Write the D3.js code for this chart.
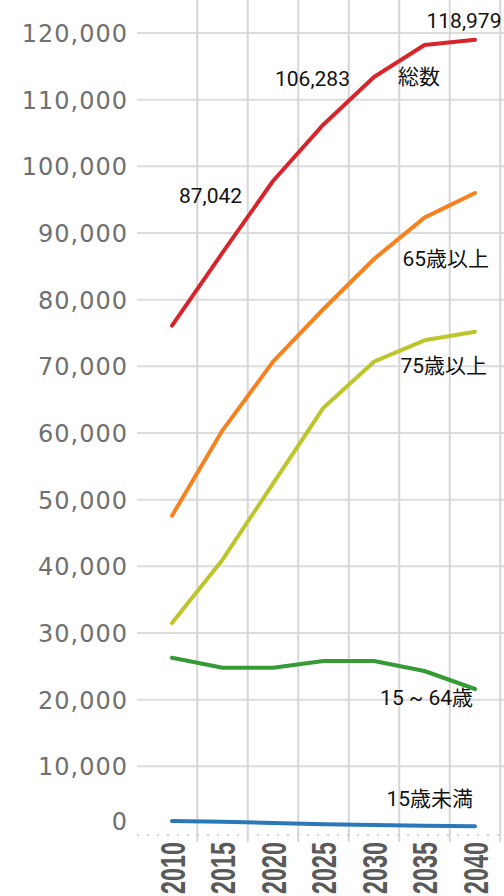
<!DOCTYPE html>
<html><head><meta charset="utf-8">
<script src="https://cdn.jsdelivr.net/npm/d3@7"></script>
<style>
html,body{margin:0;padding:0;background:#fff;}
svg{display:block;}
</style></head>
<body>
<svg id="chart" width="504" height="896"></svg>
<script>
const years = [2010, 2015, 2020, 2025, 2030, 2035, 2040];
const yTicks = [0, 10000, 20000, 30000, 40000, 50000, 60000, 70000, 80000, 90000, 100000, 110000, 120000];
const total   = [76100, 87042, 97800, 106283, 113400, 118200, 118979];
const over65  = [47600, 60400, 70700, 78600, 86100, 92300, 96000];
const over75  = [31500, 41000, 52400, 63800, 70700, 73900, 75200];
const age1564 = [26300, 24800, 24800, 25800, 25800, 24300, 21600];
const under15 = [1800, 1700, 1500, 1300, 1200, 1100, 1000];
const seriesNames = ["総数", "65歳以上", "75歳以上", "15 ~ 64歳", "15歳未満"];
const seriesColors = ["#d8252c", "#f5821f", "#bcc52a", "#359b35", "#2a78b8"];
const seriesValues = [total, over65, over75, age1564, under15];
// label offsets relative to the 2040 point
const nameOffsets = [[-35, 44], [14, 73], [12, 41], [-2, 16], [-2, -20]];
const valueLabels = [
  {year: 2015, value: 87042, dx: -12, dy: -50},
  {year: 2025, value: 106283, dx: -11, dy: -38},
  {year: 2040, value: 118979, dx: -11, dy: -12}
];

const svg = d3.select("#chart");
const x = d3.scalePoint().domain(years).range([172, 475]);
const y = d3.scaleLinear().domain([0, 120000]).range([833, 33]);
const step = x.step();

// horizontal grid
svg.append("g").selectAll("line").data(yTicks.filter(d => d > 0)).join("line")
  .attr("x1", 137).attr("x2", 504)
  .attr("y1", d => y(d)).attr("y2", d => y(d))
  .attr("stroke", "#dcdcdc").attr("stroke-width", 2);

// vertical grid at band edges
svg.append("g").selectAll("line").data(years).join("line")
  .attr("x1", d => x(d) + step / 2).attr("x2", d => x(d) + step / 2)
  .attr("y1", 0).attr("y2", 842)
  .attr("stroke", "#d6d6d6").attr("stroke-width", 2);

// baseline (dotted)
svg.append("line").attr("x1", 137).attr("x2", 504).attr("y1", 835).attr("y2", 835)
  .attr("stroke", "#c8c8c8").attr("stroke-width", 1.5).attr("stroke-dasharray", "2,8");

// y axis labels
const yAxis = d3.axisLeft(y).tickValues(yTicks).tickSize(0).tickPadding(0)
  .tickFormat(d3.format(","));
const gy = svg.append("g").attr("transform", "translate(128,0)").call(yAxis);
gy.select(".domain").remove();
gy.selectAll("text")
  .attr("font-family", "'DejaVu Sans', Verdana, sans-serif")
  .attr("font-size", 24).attr("fill", "#707070")
  .attr("letter-spacing", 1)
  .attr("dy", d => d === 0 ? "-0.15em" : "0.35em");

// x axis labels (rotated)
const xAxis = d3.axisBottom(x).tickSize(0).tickPadding(0);
const gx = svg.append("g").call(xAxis);
gx.select(".domain").remove();
gx.selectAll(".tick").attr("transform", d => `translate(${x(d)},842)`);
gx.selectAll("text")
  .attr("transform", "rotate(-90)")
  .attr("text-anchor", "end")
  .attr("x", 0).attr("y", 0).attr("dy", "0.36em")
  .attr("font-family", "'Liberation Sans', Arial, sans-serif")
  .attr("font-weight", "bold")
  .attr("font-size", 35).attr("fill", "#5a5a5a")
  .attr("textLength", 52).attr("lengthAdjust", "spacingAndGlyphs");

// lines
const line = d3.line().x((d, i) => x(years[i])).y(d => y(d));
svg.append("g").selectAll("path").data(seriesValues).join("path")
  .attr("d", d => line(d))
  .attr("fill", "none")
  .attr("stroke", (d, i) => seriesColors[i])
  .attr("stroke-width", 4)
  .attr("stroke-linejoin", "round").attr("stroke-linecap", "round");

const font = "Roboto, 'Noto Sans CJK JP', sans-serif";
// series name labels
svg.append("g").selectAll("text").data(seriesNames).join("text")
  .attr("x", (d, i) => x(2040) + nameOffsets[i][0])
  .attr("y", (d, i) => y(seriesValues[i][6]) + nameOffsets[i][1])
  .attr("text-anchor", "end")
  .attr("font-family", font).attr("font-size", 21).attr("fill", "#111")
  .text(d => d);

// value labels
svg.append("g").selectAll("text").data(valueLabels).join("text")
  .attr("x", d => x(d.year) + d.dx)
  .attr("y", d => y(d.value) + d.dy)
  .attr("text-anchor", "middle")
  .attr("font-family", font).attr("font-size", 21).attr("fill", "#111")
  .text(d => d3.format(",")(d.value));
</script>
</body></html>
